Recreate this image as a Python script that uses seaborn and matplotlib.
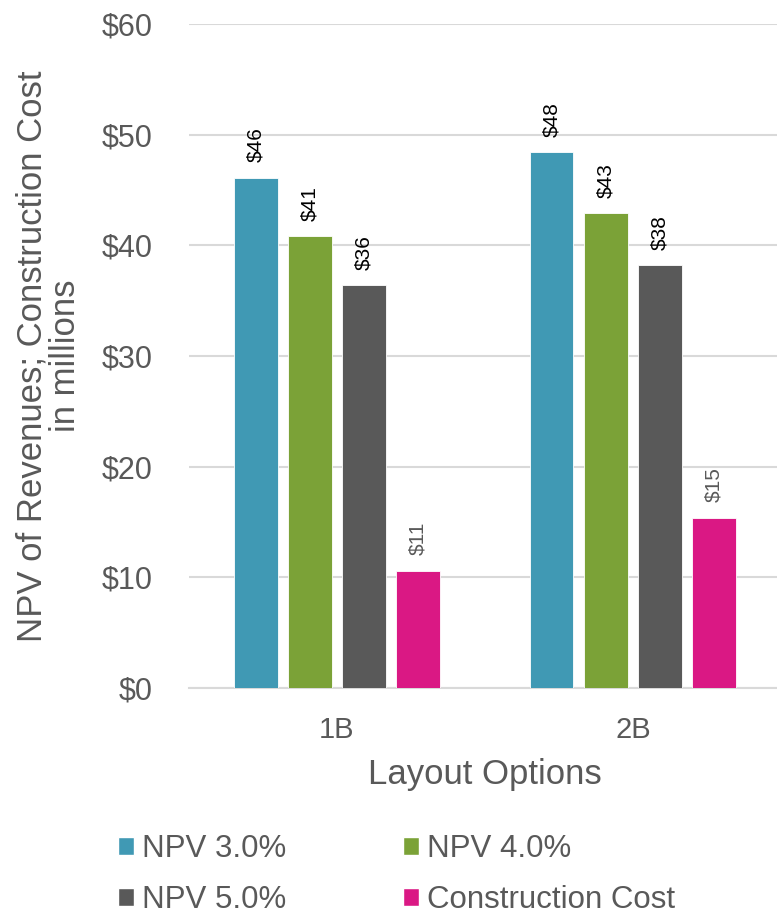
import matplotlib
matplotlib.use("Agg")
import matplotlib.pyplot as plt
import matplotlib.patches as mpatches
import seaborn as sns
import pandas as pd

options = ["1B", "2B"]
series = ["NPV 3.0%", "NPV 4.0%", "NPV 5.0%", "Construction Cost"]
npv_3 = [46.1, 48.4]
npv_4 = [40.8, 42.9]
npv_5 = [36.4, 38.2]
construction_cost = [10.6, 15.4]
colors = ["#4099B4", "#7BA237", "#595959", "#DA1884"]

rows = []
for name, vals in zip(series, [npv_3, npv_4, npv_5, construction_cost]):
    for opt, v in zip(options, vals):
        rows.append({"Layout": opt, "Series": name, "Value": v})
df = pd.DataFrame(rows)

sns.set_theme(style="white")
plt.rcParams["font.family"] = ["Liberation Sans", "DejaVu Sans"]

fig = plt.figure(figsize=(7.77, 9.15), dpi=100)
ax = fig.add_axes([0.2432, 0.248, 0.7618, 0.726])

sns.barplot(data=df, x="Layout", y="Value", hue="Series", hue_order=series,
            palette=colors, saturation=1, width=0.73, gap=0.2, ax=ax,
            legend=False, edgecolor="white", linewidth=0.6, zorder=3)

ax.set_ylim(0, 60)
ax.set_yticks(range(0, 61, 10))
ax.set_yticklabels([f"${v}" for v in range(0, 61, 10)])
ax.yaxis.grid(True, color="#d9d9d9", linewidth=1.5, zorder=0)
ax.set_axisbelow(True)
for s in ["top", "right", "left"]:
    ax.spines[s].set_visible(False)
ax.spines["bottom"].set_color("#d9d9d9")
ax.spines["bottom"].set_linewidth(1.5)
ax.tick_params(axis="y", length=0, labelsize=22, colors="#595959", pad=26)
ax.tick_params(axis="x", length=0, labelsize=21, colors="#595959", pad=20)
ax.set_xlabel("Layout Options", fontsize=25, color="#595959", labelpad=10)
ax.set_ylabel("NPV of Revenues; Construction Cost\nin millions", fontsize=25,
              color="#595959", labelpad=14, linespacing=1.05)

# value labels above each bar, rotated
for container, name in zip(ax.containers, series):
    is_cost = name == "Construction Cost"
    for bar in container:
        h = bar.get_height()
        ax.annotate(f"${h:.0f}", (bar.get_x() + bar.get_width() / 2, h),
                    xytext=(0, 11), textcoords="offset points",
                    rotation=90, ha="center", va="bottom",
                    fontsize=15, color="#595959" if is_cost else "black")

patches = {l: mpatches.Patch(facecolor=c, label=l) for c, l in zip(colors, series)}
order = ["NPV 3.0%", "NPV 5.0%", "NPV 4.0%", "Construction Cost"]
fig.legend(handles=[patches[k] for k in order], loc="upper left",
           bbox_to_anchor=(0.152, 0.0880),
           ncol=2, frameon=False, fontsize=22.5, labelcolor="#595959",
           handlelength=0.51, handleheight=0.51, handletextpad=0.25,
           columnspacing=3.75, labelspacing=0.66, borderaxespad=0,
           borderpad=0)

fig.savefig("out.png", dpi=100)
